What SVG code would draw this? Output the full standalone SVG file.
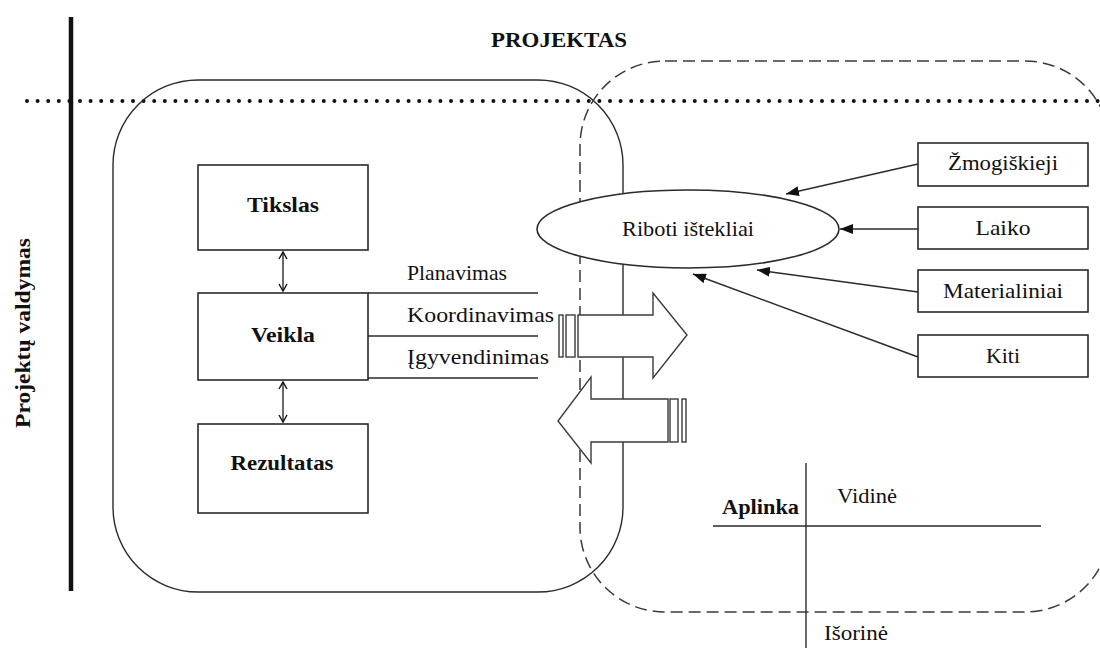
<svg xmlns="http://www.w3.org/2000/svg" width="1100" height="648" viewBox="0 0 1100 648">
<defs>
<style>
.t{font-family:"Liberation Serif","Times New Roman",serif;font-size:22px;fill:#111}
.b{font-weight:bold}
.ln{stroke:#2a2a2a;stroke-width:1.4;fill:none}
.box{stroke:#2a2a2a;stroke-width:1.6;fill:#fff}
.blk{stroke:#3a3a3a;stroke-width:1.4;fill:#fff}
</style>
<marker id="tri" markerUnits="userSpaceOnUse" markerWidth="14" markerHeight="10" refX="13" refY="5" orient="auto">
<path d="M0,0 L13,5 L0,10 Z" fill="#111"/>
</marker>
<marker id="vee" markerUnits="userSpaceOnUse" markerWidth="10" markerHeight="10" refX="8" refY="5" orient="auto-start-reverse">
<path d="M1,1 L8,5 L1,9" fill="none" stroke="#111" stroke-width="1.4"/>
</marker>
</defs>
<rect width="1100" height="648" fill="#fff"/>

<g id="background">
<line x1="27" y1="101" x2="1100" y2="101" stroke="#111" stroke-width="4" stroke-linecap="round" stroke-dasharray="0 10.6"/>
<line x1="71" y1="17" x2="71" y2="591" stroke="#111" stroke-width="4.5"/>
<rect id="project-area" x="113" y="80" width="510" height="512" rx="85" ry="85" class="ln"/>
<rect id="environment-area" x="580" y="61" width="530" height="551" rx="85" ry="85" fill="none" stroke="#3a3a3a" stroke-width="1.5" stroke-dasharray="12 6"/>
</g>

<text class="t b" x="559" y="47" text-anchor="middle" textLength="136" lengthAdjust="spacingAndGlyphs">PROJEKTAS</text>
<text class="t b" transform="translate(30,333) rotate(-90)" text-anchor="middle" textLength="190" lengthAdjust="spacingAndGlyphs">Projektų valdymas</text>

<g id="connectors">
<line class="ln" x1="283" y1="252" x2="283" y2="291" marker-start="url(#vee)" marker-end="url(#vee)"/>
<line class="ln" x1="283" y1="382" x2="283" y2="422" marker-start="url(#vee)" marker-end="url(#vee)"/>
<line class="ln" x1="368" y1="293" x2="538" y2="293"/>
<line class="ln" x1="368" y1="336" x2="538" y2="336"/>
<line class="ln" x1="368" y1="378" x2="538" y2="378"/>
<line class="ln" x1="918" y1="164" x2="786" y2="194" marker-end="url(#tri)"/>
<line class="ln" x1="918" y1="229" x2="840" y2="229" marker-end="url(#tri)"/>
<line class="ln" x1="918" y1="292" x2="757" y2="270" marker-end="url(#tri)"/>
<line class="ln" x1="918" y1="357" x2="693" y2="274" marker-end="url(#tri)"/>
</g>

<g id="tikslas">
<rect class="box" x="198" y="165" width="170" height="85"/>
<text class="t b" x="283" y="212" text-anchor="middle" textLength="72" lengthAdjust="spacingAndGlyphs">Tikslas</text>
</g>
<g id="veikla">
<rect class="box" x="198" y="293" width="170" height="87"/>
<text class="t b" x="283" y="342" text-anchor="middle" textLength="64" lengthAdjust="spacingAndGlyphs">Veikla</text>
</g>
<g id="rezultatas">
<rect class="box" x="198" y="424" width="170" height="89"/>
<text class="t b" x="282" y="470" text-anchor="middle" textLength="103" lengthAdjust="spacingAndGlyphs">Rezultatas</text>
</g>

<g id="labels">
<text class="t" x="407" y="280" textLength="100" lengthAdjust="spacingAndGlyphs">Planavimas</text>
<text class="t" x="407" y="322" textLength="147" lengthAdjust="spacingAndGlyphs">Koordinavimas</text>
<text class="t" x="407" y="364" textLength="142" lengthAdjust="spacingAndGlyphs">Įgyvendinimas</text>
</g>

<g id="riboti-istekliai">
<ellipse cx="688" cy="229" rx="151" ry="39" class="box" stroke-width="1.4"/>
<text class="t" x="688" y="236" text-anchor="middle" textLength="132" lengthAdjust="spacingAndGlyphs">Riboti ištekliai</text>
</g>

<g id="arrow-out">
<path class="blk" d="M578,315 L653,315 L653,293 L687,335 L653,378 L653,357 L578,357 Z"/>
<rect class="blk" x="559" y="315" width="4" height="42"/>
<rect class="blk" x="566" y="315" width="9" height="42"/>
</g>
<g id="arrow-in">
<path class="blk" d="M668,399 L591,399 L591,377 L558,421 L591,463 L591,442 L668,442 Z"/>
<rect class="blk" x="670" y="399" width="8" height="43"/>
<rect class="blk" x="682" y="399" width="4" height="43"/>
</g>

<g id="zmogiskieji">
<rect class="box" x="918" y="143" width="170" height="43"/>
<text class="t" x="1003" y="170" text-anchor="middle" textLength="110" lengthAdjust="spacingAndGlyphs">Žmogiškieji</text>
</g>
<g id="laiko">
<rect class="box" x="918" y="207" width="170" height="42"/>
<text class="t" x="1003" y="235" text-anchor="middle" textLength="55" lengthAdjust="spacingAndGlyphs">Laiko</text>
</g>
<g id="materialiniai">
<rect class="box" x="918" y="270" width="170" height="42"/>
<text class="t" x="1003" y="298" text-anchor="middle" textLength="120" lengthAdjust="spacingAndGlyphs">Materialiniai</text>
</g>
<g id="kiti">
<rect class="box" x="918" y="335" width="170" height="42"/>
<text class="t" x="1003" y="363" text-anchor="middle" textLength="34" lengthAdjust="spacingAndGlyphs">Kiti</text>
</g>

<g id="aplinka">
<line class="ln" x1="806" y1="463" x2="806" y2="648"/>
<line class="ln" x1="713" y1="526" x2="1041" y2="526"/>
<text class="t b" x="722" y="514" textLength="77" lengthAdjust="spacingAndGlyphs">Aplinka</text>
<text class="t" x="837" y="503" textLength="60" lengthAdjust="spacingAndGlyphs">Vidinė</text>
<text class="t" x="824" y="640" textLength="64" lengthAdjust="spacingAndGlyphs">Išorinė</text>
</g>
</svg>
